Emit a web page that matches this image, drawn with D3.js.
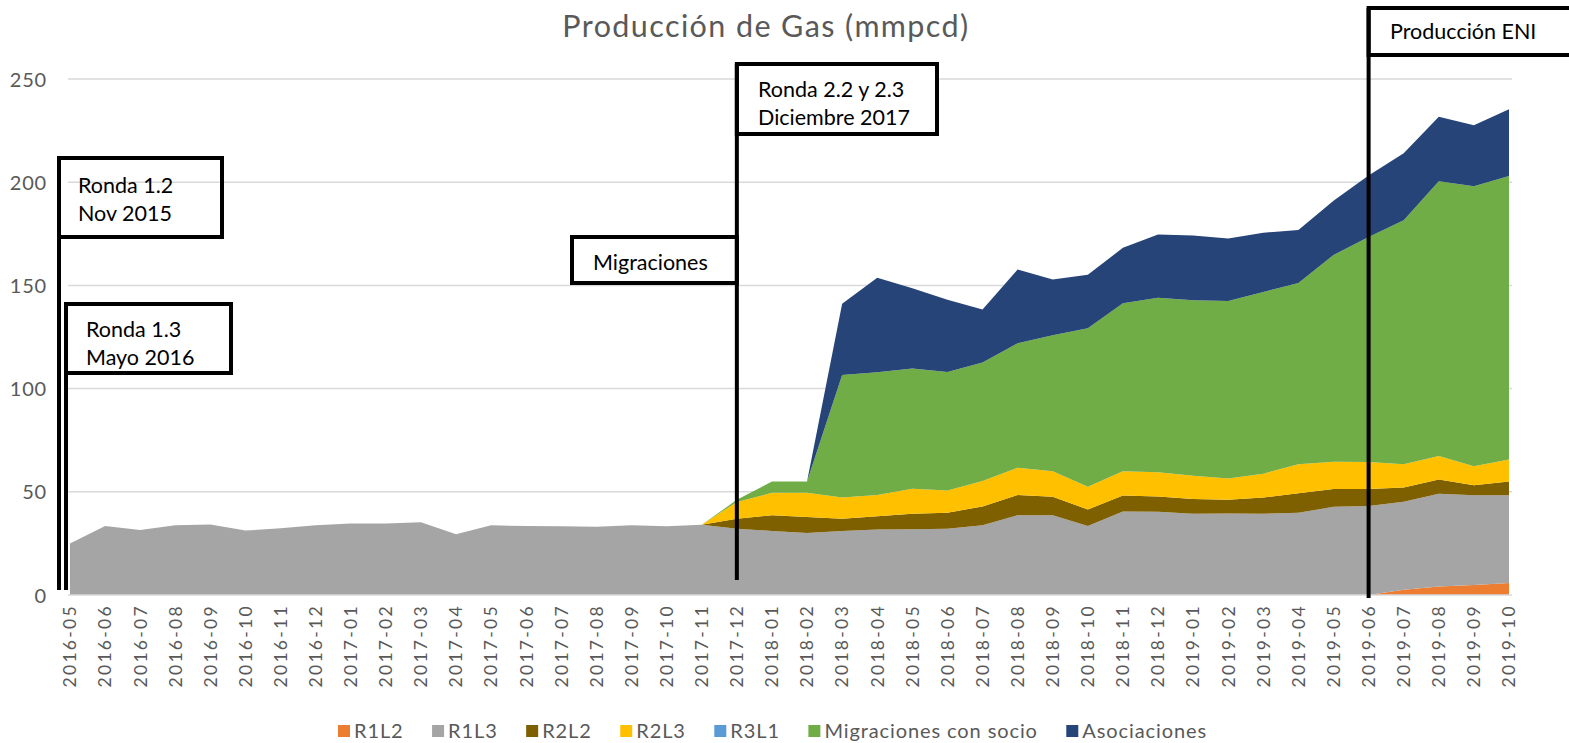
<!DOCTYPE html>
<html><head><meta charset="utf-8">
<script src="https://cdn.jsdelivr.net/npm/d3@7"></script>
<style>body{margin:0;background:#fff}svg{display:block}text{font-family:Lato,"Open Sans",sans-serif}</style>
</head><body>
<svg id="chart" width="1569" height="743"></svg>
<script>
// ---------- data ----------
const months = ["2016-05","2016-06","2016-07","2016-08","2016-09","2016-10","2016-11","2016-12",
"2017-01","2017-02","2017-03","2017-04","2017-05","2017-06","2017-07","2017-08","2017-09","2017-10","2017-11","2017-12",
"2018-01","2018-02","2018-03","2018-04","2018-05","2018-06","2018-07","2018-08","2018-09","2018-10","2018-11","2018-12",
"2019-01","2019-02","2019-03","2019-04","2019-05","2019-06","2019-07","2019-08","2019-09","2019-10"];
const seriesNames = ["R1L2","R1L3","R2L2","R2L3","R3L1","Migraciones con socio","Asociaciones"];
const seriesColors = ["#ED7D31","#A5A5A5","#7F6000","#FFC000","#5B9BD5","#70AD47","#264478"];
const R1L2 = [0,0,0,0,0,0,0,0,0,0,0,0,0,0,0,0,0,0,0,0,0,0,0,0,0,0,0,0,0,0,0,0,0,0,0,0,0,0,2.5,4.1,4.9,5.8];
const R1L3 = [24.9,33.4,31.5,33.8,34.2,31.2,32.3,33.8,34.7,34.7,35.2,29.4,33.8,33.4,33.3,33.1,33.8,33.3,34.0,
  32.1,31.0,30.0,31.0,31.7,31.8,32.1,33.8,38.6,38.6,33.4,40.5,40.3,39.4,39.5,39.4,39.8,42.7,43.1,42.7,44.9,43.4,42.5];
const R2L2 = [0,0,0,0,0,0,0,0,0,0,0,0,0,0,0,0,0,0,0,
  4.9,7.6,7.8,6.0,6.4,7.6,7.8,9.1,9.8,9.0,8.0,7.7,7.4,7.1,6.6,7.8,9.5,8.6,8.2,6.9,6.9,4.9,6.7];
const R2L3 = [0,0,0,0,0,0,0,0,0,0,0,0,0,0,0,0,0,0,0,
  8.1,10.9,11.7,10.2,10.3,12.1,10.7,12.3,13.3,12.4,11.0,11.8,11.8,11.3,10.4,11.6,14.0,13.3,13.1,11.2,11.5,9.2,10.7];
const R3L1 = [0,0,0,0,0,0,0,0,0,0,0,0,0,0,0,0,0,0,0,0,0,0,0,0,0,0,0,0,0,0,0,0,0,0,0,0,0,0,0,0,0,0];
const migraciones = [0,0,0,0,0,0,0,0,0,0,0,0,0,0,0,0,0,0,0,
  1.0,5.5,5.5,59.4,59.5,58.2,57.5,57.4,60.3,65.8,76.8,81.3,84.5,85.0,85.9,88.0,87.9,100.1,109.0,118.3,133.1,135.6,137.3];
const asociaciones = [0,0,0,0,0,0,0,0,0,0,0,0,0,0,0,0,0,0,0,0,0,0,
  34.5,45.8,38.9,34.9,25.7,35.7,27.0,26.0,26.9,30.7,31.4,30.3,28.7,25.6,26.3,29.9,32.4,31.2,29.6,32.3];
const yTicks = [0,50,100,150,200,250];
const titleText = "Producción de Gas (mmpcd)";
const annotations = [
  {month:"2016-05", lines:["Ronda 1.2","Nov 2015"]},
  {month:"2016-05", lines:["Ronda 1.3","Mayo 2016"]},
  {month:"2017-12", lines:["Migraciones"]},
  {month:"2017-12", lines:["Ronda 2.2 y 2.3","Diciembre 2017"]},
  {month:"2019-06", lines:["Producción ENI"]}
];

// ---------- build ----------
const seriesValues = [R1L2,R1L3,R2L2,R2L3,R3L1,migraciones,asociaciones];
const table = months.map((m,i)=>{const o={month:m};seriesNames.forEach((n,k)=>o[n]=seriesValues[k][i]);return o;});
const stack = d3.stack().keys(seriesNames)(table);

const svg = d3.select("#chart");
const x = d3.scalePoint().domain(months).range([70,1509]);
const y = d3.scaleLinear().domain([0,250]).range([595,79]);

// gridlines
svg.append("g").selectAll("line").data(yTicks.filter(d=>d>0)).join("line")
  .attr("x1",68).attr("x2",1512).attr("y1",d=>y(d)).attr("y2",d=>y(d))
  .attr("stroke","#d9d9d9").attr("stroke-width",1.5);

// areas
const area = d3.area().x((d,i)=>x(months[i])).y0(d=>y(d[0])).y1(d=>y(d[1]));
svg.append("g").selectAll("path").data(stack).join("path")
  .attr("d",area).attr("fill",(d,i)=>seriesColors[i]);

// baseline
svg.append("line").attr("x1",68).attr("x2",1512).attr("y1",y(0)).attr("y2",y(0))
  .attr("stroke","#d9d9d9").attr("stroke-width",1.5);

// y axis
const yAxis = d3.axisLeft(y).tickValues(yTicks).tickSize(0).tickPadding(0);
const ya = svg.append("g").attr("transform","translate(47,0)").call(yAxis);
ya.select(".domain").remove();
ya.selectAll("text").attr("fill","#595959").style("font-size","20px").style("letter-spacing","0.8px")
  .style("font-family","Lato").attr("dy","0.35em");

// x axis labels
const xa = svg.append("g");
xa.selectAll("text").data(months).join("text")
  .attr("transform",d=>`translate(${x(d)},604) rotate(-90)`)
  .attr("text-anchor","end").attr("dy","0.36em")
  .attr("fill","#595959").style("font-size","17.5px").style("letter-spacing","2.3px")
  .text(d=>d);

// title
svg.append("text").attr("x",766).attr("y",37).attr("text-anchor","middle")
  .attr("fill","#595959").style("font-size","30.5px").style("letter-spacing","1.4px").text(titleText);

// annotations
const ann = svg.append("g");
function box(x0,y0,x1,y1,fill){
  ann.append("rect").attr("x",x0).attr("y",y0).attr("width",x1-x0).attr("height",y1-y0)
    .attr("fill",fill).attr("stroke","#000").attr("stroke-width",4);
}
function vline(xx,y0,y1){
  ann.append("line").attr("x1",xx).attr("x2",xx).attr("y1",y0).attr("y2",y1)
    .attr("stroke","#000").attr("stroke-width",4);
}
function label(lines,x0,y0){
  lines.forEach((t,i)=>ann.append("text").attr("x",x0).attr("y",y0+i*28)
    .attr("fill","#000").style("font-size","21.5px").text(t));
}
// Ronda 1.2
const xa0 = x(annotations[0].month);
box(xa0-11,158,222,237,"none"); vline(xa0-11,158,590); label(annotations[0].lines,78,193);
// Ronda 1.3
box(xa0-4,304,231,373,"none"); vline(xa0-4,304,590); label(annotations[1].lines,86,337);
// Migraciones
const xd = x(annotations[2].month);
box(572,237,xd,283,"#fff"); label(annotations[2].lines,593,270);
// Ronda 2.2
box(xd,64,937,134,"#fff"); vline(xd,64,580); label(annotations[3].lines,758,97);
// ENI
const xe = x(annotations[4].month);
box(xe,8,1590,55,"#fff"); vline(xe,8,598); label(annotations[4].lines,1390,39);

// legend (spread between left and right edges of the reference legend)
const leg = svg.append("g");
const legStart = 338, legEnd = 1207;
const items = seriesNames.map((n,i)=>{
  const g = leg.append("g");
  g.append("rect").attr("y",725).attr("width",12).attr("height",12).attr("fill",seriesColors[i]);
  const t = g.append("text").attr("x",16).attr("y",738).attr("fill","#595959")
    .style("font-size","20px").style("letter-spacing","0.9px").text(n);
  return {g, w: 16 + t.node().getComputedTextLength()};
});
const totalW = d3.sum(items, d=>d.w);
const gap = (legEnd - legStart - totalW) / (items.length - 1);
let lx = legStart;
items.forEach(it=>{ it.g.attr("transform",`translate(${lx},0)`); lx += it.w + gap; });
</script>
</body></html>
